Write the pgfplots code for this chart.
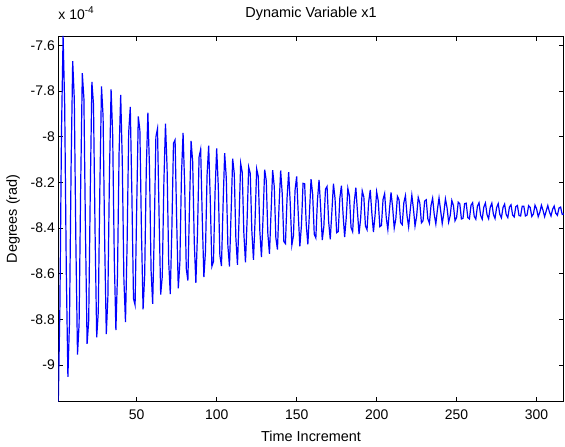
\documentclass[border=0pt]{standalone}
\usepackage{fontspec}
\setmainfont{Liberation Sans}
\usepackage{pgfplots}
\pgfplotsset{compat=1.18}
\usetikzlibrary{calc}
\begin{document}
\begin{tikzpicture}
\begin{axis}[
  width=505.5bp, height=365.7bp, scale only axis,
  xmin=1, xmax=317, ymin=-9.16, ymax=-7.559,
  axis line style={black, line width=0.8bp},
  tick align=inside, tick pos=both,
  major tick length=5bp,
  every tick/.style={black, line width=0.8bp},
  xtick={50,100,150,200,250,300},
  xticklabels={50,100,150,200,250,300},
  ytick={-9,-8.8,-8.6,-8.4,-8.2,-8,-7.8,-7.6},
  yticklabels={-9,-8.8,-8.6,-8.4,-8.2,-8,-7.8,-7.6},
  ticklabel style={font=\fontsize{14}{14}\selectfont},
  xticklabel style={yshift=-5bp},
]
\addplot[blue, line width=1.2bp, mark=none] table {
n y
1 -9.160
2 -8.747
3 -7.976
4 -7.559
5 -7.864
6 -8.590
7 -9.051
8 -8.810
9 -8.131
10 -7.669
11 -7.834
12 -8.470
13 -8.954
14 -8.820
15 -8.211
16 -7.722
17 -7.831
18 -8.422
19 -8.907
20 -8.806
21 -8.233
22 -7.760
23 -7.859
24 -8.423
25 -8.878
26 -8.767
27 -8.212
28 -7.780
29 -7.911
30 -8.463
31 -8.864
32 -8.700
33 -8.154
34 -7.793
35 -7.993
36 -8.534
37 -8.847
38 -8.603
39 -8.071
40 -7.817
41 -8.107
42 -8.624
43 -8.812
44 -8.474
45 -7.982
46 -7.869
47 -8.253
48 -8.708
49 -8.737
50 -8.314
51 -7.911
52 -7.972
53 -8.421
54 -8.756
55 -8.605
56 -8.144
57 -7.895
58 -8.135
59 -8.586
60 -8.732
61 -8.414
62 -8.001
63 -7.965
64 -8.343
65 -8.691
66 -8.611
67 -8.201
68 -7.943
69 -8.135
70 -8.545
71 -8.689
72 -8.402
73 -8.029
74 -8.014
75 -8.368
76 -8.664
77 -8.550
78 -8.167
79 -7.983
80 -8.214
81 -8.577
82 -8.630
83 -8.309
84 -8.018
85 -8.109
86 -8.463
87 -8.640
88 -8.423
89 -8.089
90 -8.055
91 -8.358
92 -8.615
93 -8.502
94 -8.168
95 -8.039
96 -8.275
97 -8.568
98 -8.546
99 -8.242
100 -8.051
101 -8.216
102 -8.519
103 -8.566
104 -8.299
105 -8.072
106 -8.179
107 -8.476
108 -8.568
109 -8.338
110 -8.096
111 -8.162
112 -8.443
113 -8.561
114 -8.361
115 -8.117
116 -8.156
117 -8.423
118 -8.550
119 -8.370
120 -8.133
121 -8.161
122 -8.414
123 -8.539
124 -8.367
125 -8.141
126 -8.173
127 -8.415
128 -8.527
129 -8.354
130 -8.144
131 -8.192
132 -8.425
133 -8.513
134 -8.332
135 -8.146
136 -8.218
137 -8.442
138 -8.494
139 -8.303
140 -8.148
141 -8.251
142 -8.459
143 -8.468
144 -8.269
145 -8.155
146 -8.292
147 -8.474
148 -8.433
149 -8.234
150 -8.174
151 -8.338
152 -8.480
153 -8.388
154 -8.204
155 -8.206
156 -8.386
157 -8.471
158 -8.334
159 -8.186
160 -8.252
161 -8.427
162 -8.443
163 -8.278
164 -8.189
165 -8.311
166 -8.452
167 -8.393
168 -8.230
169 -8.218
170 -8.372
171 -8.449
172 -8.331
173 -8.206
174 -8.271
175 -8.420
176 -8.415
177 -8.268
178 -8.214
179 -8.338
180 -8.439
181 -8.355
182 -8.226
183 -8.259
184 -8.397
185 -8.416
186 -8.286
187 -8.223
188 -8.327
189 -8.426
190 -8.358
191 -8.237
192 -8.264
193 -8.391
194 -8.407
195 -8.287
196 -8.233
197 -8.334
198 -8.417
199 -8.345
200 -8.241
201 -8.281
202 -8.394
203 -8.388
204 -8.275
205 -8.249
206 -8.353
207 -8.406
208 -8.320
209 -8.244
210 -8.309
211 -8.400
212 -8.359
213 -8.261
214 -8.276
215 -8.376
216 -8.385
217 -8.289
218 -8.258
219 -8.345
220 -8.395
221 -8.321
222 -8.256
223 -8.315
224 -8.391
225 -8.348
226 -8.266
227 -8.291
228 -8.377
229 -8.368
230 -8.282
231 -8.276
232 -8.359
233 -8.379
234 -8.301
235 -8.269
236 -8.340
237 -8.382
238 -8.319
239 -8.268
240 -8.323
241 -8.380
242 -8.334
243 -8.272
244 -8.310
245 -8.374
246 -8.345
247 -8.279
248 -8.301
249 -8.368
250 -8.353
251 -8.287
252 -8.294
253 -8.360
254 -8.357
255 -8.293
256 -8.291
257 -8.354
258 -8.360
259 -8.300
260 -8.289
261 -8.348
262 -8.361
263 -8.304
264 -8.289
265 -8.344
266 -8.361
267 -8.308
268 -8.290
269 -8.341
270 -8.359
271 -8.309
272 -8.291
273 -8.340
274 -8.358
275 -8.310
276 -8.293
277 -8.340
278 -8.355
279 -8.310
280 -8.295
281 -8.341
282 -8.354
283 -8.308
284 -8.298
285 -8.343
286 -8.351
287 -8.306
288 -8.301
289 -8.345
290 -8.347
291 -8.304
292 -8.304
293 -8.347
294 -8.343
295 -8.302
296 -8.310
297 -8.349
298 -8.338
299 -8.300
300 -8.316
301 -8.350
302 -8.331
303 -8.300
304 -8.322
305 -8.350
306 -8.325
307 -8.301
308 -8.329
309 -8.347
310 -8.318
311 -8.304
312 -8.335
313 -8.344
314 -8.312
315 -8.308
316 -8.340
317 -8.338
};
\end{axis}
\node[anchor=base, font=\fontsize{14.5}{14.5}\selectfont] at ($(current axis.north)+(0,18bp)$) {Dynamic Variable x1};
\node[anchor=base west, inner sep=0pt, font=\fontsize{14}{14}\selectfont] at ($(current axis.north west)+(0,16.5bp)$) {x 10\raisebox{5.5bp}{\fontsize{10}{10}\selectfont -4}};
\node[anchor=base, font=\fontsize{14.5}{14.5}\selectfont] at ($(current axis.south)+(0,-39.5bp)$) {Time Increment};
\node[anchor=base, rotate=90, font=\fontsize{14.5}{14.5}\selectfont] at ($(current axis.west)+(-41.3bp,0)$) {Degrees (rad)};
\pgfresetboundingbox
\path[use as bounding box] ($(current axis.south west)+(-58.3bp,-45.3bp)$) rectangle ($(current axis.north east)+(1.2bp,36bp)$);
\end{tikzpicture}
\end{document}
